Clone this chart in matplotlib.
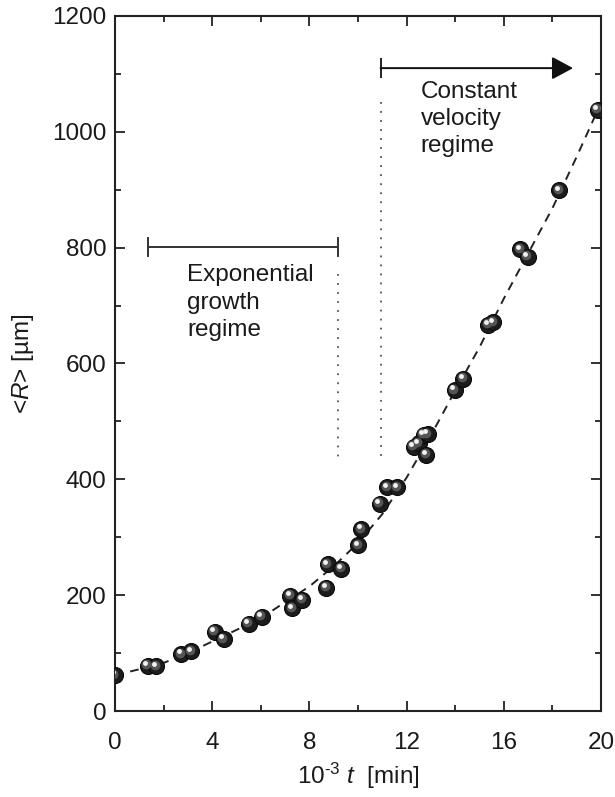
import matplotlib
matplotlib.use("Agg")
import matplotlib.pyplot as plt
import matplotlib.transforms as mtransforms

plt.rcParams['font.family'] = ['Liberation Sans', 'DejaVu Sans']
plt.rcParams['mathtext.fontset'] = 'custom'
plt.rcParams['mathtext.rm'] = 'Liberation Sans'
plt.rcParams['mathtext.it'] = 'Liberation Sans:italic'

# measured data points
t_data = [0.0, 1.35, 1.69, 2.72, 3.13, 4.10, 4.47, 5.51, 6.03, 7.22, 7.30, 7.71,
          8.70, 8.76, 9.31, 10.02, 10.14, 10.90, 11.20, 11.62, 12.30, 12.51,
          12.71, 12.88, 12.81, 13.98, 14.34, 15.37, 15.57, 16.67, 16.98, 18.28, 19.86]
R_data = [62, 78, 77, 98, 103, 137, 124, 151, 163, 199, 177, 192,
          213, 253, 246, 286, 314, 358, 386, 386, 456, 462,
          477, 478, 442, 554, 574, 667, 671, 797, 784, 899, 1038]

# fitted curve
t_fit = [0, 1, 2, 3, 4, 5, 6, 7, 8, 9, 10, 11, 12, 13, 14, 15, 16, 17, 18, 19, 20]
R_fit = [62, 72, 83, 100, 120, 140, 160, 188, 215, 250, 290, 340, 403, 476, 553,
         628, 712, 790, 868, 957, 1050]

x_ticks = [0, 4, 8, 12, 16, 20]
y_ticks = [0, 200, 400, 600, 800, 1000, 1200]

fig = plt.figure(figsize=(6.15, 7.97), dpi=100)
ax = fig.add_axes([115/615, 1 - 711/797, 486/615, 695/797])

ax.plot(t_fit, R_fit, color='#222222', lw=1.4, ls=(0, (4.5, 3.5)), zorder=2)

# sphere-like markers
ax.plot(t_data, R_data, 'o', ms=11.5, mfc='#1c1c1c', mec='#0a0a0a', mew=0.8, ls='none', zorder=3)
ax.plot(t_data, R_data, 'o', ms=7, mfc='#555555', mec='none', ls='none', zorder=4,
        transform=mtransforms.offset_copy(ax.transData, fig=fig, x=-1.1, y=1.1, units='points'))
ax.plot(t_data, R_data, 'o', ms=3.5, mfc='#f2f2f2', mec='none', ls='none', zorder=5,
        transform=mtransforms.offset_copy(ax.transData, fig=fig, x=-1.8, y=2.0, units='points'))

# exponential growth regime bar
ax.plot([1.37, 9.19], [801, 801], color='#333333', lw=1.4, zorder=2)
ax.plot([1.37, 1.37], [786, 816], color='#333333', lw=1.4)
ax.plot([9.19, 9.19], [786, 816], color='#333333', lw=1.4)
ax.plot([9.19, 9.19], [755, 428], color='#555555', lw=1.3, ls=(0, (1, 4)))
ax.text(2.97, 771, 'Exponential\ngrowth\nregime', fontsize=17.5, ha='left', va='top',
        linespacing=1.3, color='#1a1a1a')

# constant velocity regime arrow
ax.plot([10.93, 10.93], [1052, 428], color='#555555', lw=1.3, ls=(0, (1, 4)))
ax.plot([10.93, 10.93], [1095, 1125], color='#222222', lw=1.4)
ax.annotate('', xy=(18.85, 1110), xytext=(10.93, 1110),
            arrowprops=dict(arrowstyle='-|>,head_length=1.3,head_width=0.7',
                            color='#111111', lw=1.4, shrinkA=0, shrinkB=0))
ax.text(12.58, 1088, 'Constant\nvelocity\nregime', fontsize=17.5, ha='left', va='top',
        linespacing=1.3, color='#1a1a1a')

ax.set_xlim(0, 20)
ax.set_ylim(0, 1200)
ax.set_xticks(x_ticks)
ax.set_yticks(y_ticks)
ax.set_xticks([2, 6, 10, 14, 18], minor=True)
ax.set_yticks([100, 300, 500, 700, 900, 1100], minor=True)
ax.tick_params(which='both', direction='in', top=True, right=True, width=1.3,
               color='#222222', labelsize=17.5, labelcolor='#1a1a1a')
ax.tick_params(which='major', length=7.5)
ax.tick_params(which='minor', length=4)
ax.tick_params(axis='x', which='major', pad=15)
ax.tick_params(axis='y', which='major', pad=6)
for s in ax.spines.values():
    s.set_linewidth(1.5)
    s.set_color('#222222')

ax.set_xlabel(r'10$^{\text{-}3}$ $t$  [min]', fontsize=17.5, color='#1a1a1a', labelpad=5)
ax.set_ylabel('<$R$> [µm]', fontsize=17.5, color='#1a1a1a', labelpad=12)

fig.savefig('out.png', dpi=100)
